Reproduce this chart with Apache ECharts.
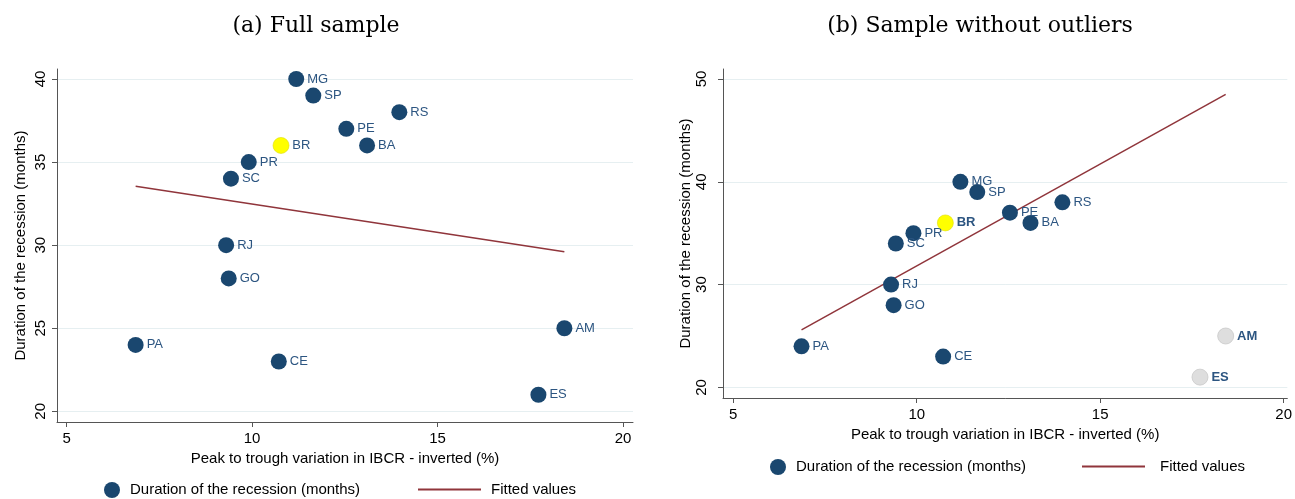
<!DOCTYPE html>
<html>
<head>
<meta charset="utf-8">
<script src="https://cdn.jsdelivr.net/npm/echarts@6/dist/echarts.min.js"></script>
<style>
  html, body { margin: 0; padding: 0; background: #fff; }
  #chart { width: 1295px; height: 499px; }
</style>
</head>
<body>
<div id="chart"></div>
<script type="text/javascript">

// state codes, IBCR variation (x) and recession length (y)
var states   = ['MG', 'SP', 'RS', 'PE', 'BA', 'BR', 'PR', 'SC', 'RJ', 'GO', 'PA', 'CE', 'AM', 'ES'];
var ibcr     = [11.19, 11.65, 13.97, 12.54, 13.10, 10.78, 9.91, 9.43, 9.30, 9.37, 6.86, 10.72, 18.42, 17.72];
var duration = [40, 39, 38, 37, 36, 36, 35, 34, 30, 28, 24, 23, 25, 21];

// outliers dropped in panel (b)
var outliers = ['AM', 'ES'];

// fitted line end points
var fitX     = [6.86, 18.42];
var fitFullY = [33.55, 29.6];
var fitTrimY = [25.6, 48.5];

var xTicks  = [5, 10, 15, 20];
var yTicksA = [20, 25, 30, 35, 40];
var yTicksB = [20, 30, 40, 50];

var navy = '#1a476f';
var maroon = '#90353b';
var scatterName = 'Duration of the recession (months)';
var fitName = 'Fitted values';

function pointData(trimmed) {
    var rows = [];
    for (var i = 0; i < states.length; i++) {
        var st = states[i];
        var row = { name: st, value: [ibcr[i], duration[i]] };
        var isOut = outliers.indexOf(st) >= 0;
        if (st === 'BR') {
            row.itemStyle = { color: '#ffff00', borderColor: '#dede00', borderWidth: 0.6 };
            if (trimmed) row.label = { fontWeight: 'bold' };
        } else if (trimmed && isOut) {
            row.itemStyle = { color: '#dedede', borderColor: '#c9c9c9', borderWidth: 0.8 };
            row.label = { fontWeight: 'bold' };
        }
        rows.push(row);
    }
    return rows;
}

function fitData(ys) {
    return [[fitX[0], ys[0]], [fitX[1], ys[1]]];
}

function xAxisOpt(grid, min, max) {
    return {
        gridIndex: grid, type: 'value', min: min, max: max,
        name: 'Peak to trough variation in IBCR - inverted (%)',
        nameLocation: 'middle', nameGap: 27,
        nameTextStyle: { fontSize: 15, color: '#000' },
        axisLine: { show: true, onZero: false, lineStyle: { color: '#555', width: 1 } },
        axisTick: { show: true, length: 5, customValues: xTicks, lineStyle: { color: '#555' } },
        axisLabel: { customValues: xTicks, fontSize: 15, color: '#000', margin: 9 },
        splitLine: { show: false }
    };
}

function yAxisOpt(grid, min, max, ticks, margin, gap) {
    return {
        gridIndex: grid, type: 'value', min: min, max: max,
        name: 'Duration of the recession (months)',
        nameLocation: 'middle', nameGap: gap, nameRotate: 90,
        nameTextStyle: { fontSize: 15, color: '#000' },
        axisLine: { show: true, onZero: false, lineStyle: { color: '#555', width: 1 } },
        axisTick: { show: true, length: 5, customValues: ticks, lineStyle: { color: '#555' } },
        axisLabel: { customValues: ticks, fontSize: 15, color: '#000', rotate: 90, margin: margin },
        splitLine: { show: true, lineStyle: { color: '#e6eff1', width: 1 } }
    };
}

function scatterSeries(idx, trimmed) {
    return {
        name: scatterName, type: 'scatter',
        xAxisIndex: idx, yAxisIndex: idx,
        symbol: 'circle', symbolSize: 16,
        itemStyle: { color: navy, opacity: 1 },
        label: {
            show: true, position: 'right', distance: 3,
            formatter: '{b}', color: '#2c5581', fontSize: 13
        },
        emphasis: { disabled: true },
        data: pointData(trimmed),
        z: 3
    };
}

function fitSeries(idx, ys) {
    return {
        name: fitName, type: 'line',
        xAxisIndex: idx, yAxisIndex: idx,
        symbol: 'none', showSymbol: false,
        lineStyle: { color: maroon, width: 1.5 },
        itemStyle: { color: maroon },
        emphasis: { disabled: true },
        data: fitData(ys),
        z: 2
    };
}

function legendOpt(name, left, top, w, padLeft, isLine) {
    var lg = {
        data: [name], left: left, top: top, padding: 0,
        itemWidth: w, itemHeight: 16, selectedMode: false,
        textStyle: { fontSize: 15, color: '#000', padding: [0, 0, 0, padLeft] }
    };
    // line key only, no marker on it
    if (isLine) lg.itemStyle = { opacity: 0, borderWidth: 0 };
    return lg;
}

var chart = echarts.init(document.getElementById('chart'));

var option = {
    animation: false,
    textStyle: { fontFamily: 'Liberation Sans, Arial, sans-serif' },
    graphic: [
        { type: 'text', x: 316, y: 26,
          style: { text: '(a) Full sample', font: '22px "DejaVu Serif", serif', fill: '#000',
                   textAlign: 'center', textVerticalAlign: 'middle' } },
        { type: 'text', x: 980, y: 26,
          style: { text: '(b) Sample without outliers', font: '22px "DejaVu Serif", serif', fill: '#000',
                   textAlign: 'center', textVerticalAlign: 'middle' } }
    ],
    grid: [
        { left: 57, top: 69, width: 576, height: 353 },
        { left: 723, top: 69, width: 572, height: 329 }
    ],
    xAxis: [
        xAxisOpt(0, 4.74, 20.27),
        xAxisOpt(1, 4.72, 20.1)
    ],
    yAxis: [
        yAxisOpt(0, 19.36, 40.6, yTicksA, 9, 29),
        yAxisOpt(1, 18.97, 50.97, yTicksB, 14, 30)
    ],
    legend: [
        legendOpt(scatterName, 104, 482, 16, 5, false),
        legendOpt(fitName, 417, 482, 63, 5, true),
        legendOpt(scatterName, 770, 459, 16, 5, false),
        legendOpt(fitName, 1081, 459, 63, 10, true)
    ],
    series: [
        fitSeries(0, fitFullY),
        scatterSeries(0, false),
        fitSeries(1, fitTrimY),
        scatterSeries(1, true)
    ]
};

chart.setOption(option);

</script>
</body>
</html>
